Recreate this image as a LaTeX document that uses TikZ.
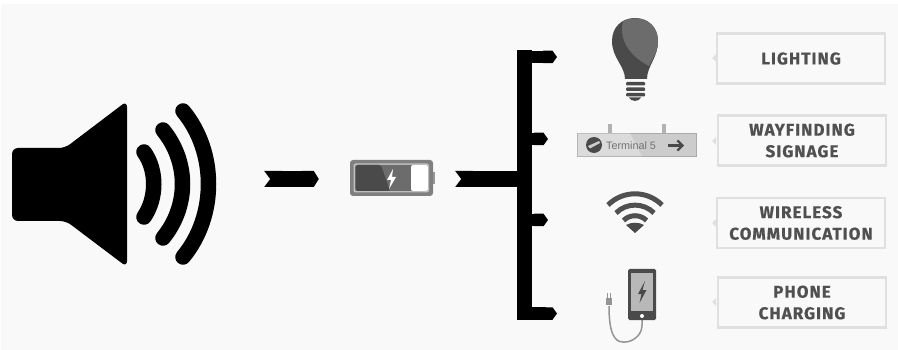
\documentclass[tikz,border=0pt]{standalone}
\usepackage{fontspec}
\setmainfont{Liberation Sans}
\newfontfamily\labelfont[LetterSpace=6,FakeBold=0.6]{Fira Sans Bold}
\usetikzlibrary{arrows.meta,calc}
\definecolor{bgc}{HTML}{F9F9F9}
\definecolor{dk}{HTML}{4A4A4A}
\definecolor{mid}{HTML}{6C6C6C}
\definecolor{lbl}{HTML}{505050}
\definecolor{bord}{HTML}{E0E0E0}
\tikzset{
  px/.style={x=1pt,y=-1pt},
  labelbox/.style={draw=bord,line width=2.6pt,fill=bgc,minimum width=168pt,minimum height=50pt,inner sep=0pt,align=center,
    font=\labelfont\fontsize{17}{21.5}\selectfont,text=lbl},
  pointer/.style={fill=bord,draw=none},
  anchorbox/.style={inner sep=0pt,draw=none},
  branch/.style={line width=12.5pt,draw=black,-{Triangle Cap[length=4.5pt,width=12.5pt]}},
  flow/.style={line width=16pt,draw=black,{Triangle Cap[reversed,length=6pt,width=16pt]}-{Triangle Cap[length=5pt,width=16pt]}},
  wave/.style={line width=15.5pt,draw=black,line cap=round},
  wifi/.style={line width=5pt,draw=lbl},
}
\begin{document}
\begin{tikzpicture}[px]
\useasboundingbox (0,0) rectangle (898,350);
\fill[white] (0,0) rectangle (898,350);
\fill[bgc] (1,4) rectangle (898,350);

% speaker
\fill[black,rounded corners=6pt] (12,148) -- (65,148) -- (127,101) -- (127,267) -- (66,221) -- (12,221) -- cycle;
\fill[black] (12,158) rectangle (70,211);
\draw[wave] (144,152) .. controls (157,170) and (157,198) .. (144,217);
\draw[wave] (163,130) .. controls (189,162) and (189,206) .. (163,238);
\draw[wave] (183,111) .. controls (217,152) and (217,216) .. (183,257);
\node[anchorbox,minimum width=205pt,minimum height=160pt] (speaker) at (114.5,179) {};

% battery
\node[anchorbox,minimum width=83pt,minimum height=36pt] (battery) at (391.5,179) {};
\fill[mid!70!white] (432,172) rectangle (435,184);
\fill[rounded corners=3pt,fill=black!50] (350,160) rectangle (433,196);
\fill[rounded corners=2pt,fill=black!25] (353.5,163.5) rectangle (429,192.5);
\fill[rounded corners=2pt,fill=mid] (355,165) rectangle (428,191);
\fill[dk,rounded corners=2pt] (356,165) -- (381,165) -- (390,191) -- (356,191) -- cycle;
\fill[rounded corners=2pt,fill=white] (411,165) rectangle (428,191);
\fill[white] (393,169) -- (387,180) -- (391,180) -- (389,189) -- (396,177) -- (392,177) -- cycle;

% flows
\coordinate (junction) at (524,179);
\coordinate (top) at (524,50.5);
\coordinate (bottom) at (524,320);
\coordinate (b1s) at (517.5,57);
\coordinate (b1e) at (557,57);
\coordinate (b2s) at (524,139);
\coordinate (b2e) at (548,139);
\coordinate (b3s) at (524,220);
\coordinate (b3e) at (548,220);
\coordinate (b4s) at (517.5,313.5);
\coordinate (b4e) at (557,313.5);
\draw[flow,shorten <=47pt,shorten >=31pt] (speaker.east) -- (battery.west);
\draw[line width=16pt,draw=black,{Triangle Cap[reversed,length=6pt,width=16pt]}-,shorten <=22pt] (battery.east) -- (junction);
\draw[line width=15pt,draw=black] (top) -- (bottom);
\draw[branch] (b1s) -- (b1e);
\draw[branch] (b2s) -- (b2e);
\draw[branch] (b3s) -- (b3e);
\draw[branch] (b4s) -- (b4e);

% bulb
\fill[dk] (625,79) .. controls (625,66) and (612,58) .. (612,41)
  .. controls (612,27) and (622,18) .. (635,18)
  .. controls (648,18) and (658,27) .. (658,41)
  .. controls (658,58) and (647,66) .. (647,79) -- cycle;
\fill[mid] (623,21.5) .. controls (630,17.5) and (641,17) .. (648,22)
  .. controls (656,27) and (658,35) .. (658,42)
  .. controls (658,51) and (653,58) .. (649,66)
  .. controls (633,58) and (618,42) .. (623,21.5) -- cycle;
\fill[dk,rounded corners=1pt] (626,82) rectangle (645,85.5);
\fill[dk,rounded corners=1pt] (626,87.5) rectangle (645,91);
\fill[dk,rounded corners=1pt] (626,93) rectangle (645,96.5);
\fill[dk] (629,97.5) -- (641,97.5) .. controls (639,102) and (631,102) .. (629,97.5) -- cycle;

% sign
\fill[black!30] (607.5,124) rectangle (611.5,133);
\fill[black!30] (661.5,124) rectangle (665.5,133);
\filldraw[fill=black!20,draw=black!33,line width=1pt] (577.5,133.5) rectangle (696.5,156.5);
\fill[black!8,opacity=.5] (577.5,133.5) -- (630,133.5) -- (642,156.5) -- (577.5,156.5) -- cycle;
\fill[dk] (594,145) circle (8);
\fill[black!20] (588,146) -- (599,141) -- (600,143) -- (590,148.5) -- cycle;
\node[anchorbox,font=\fontsize{10.8}{12}\selectfont,text=black!55,anchor=west] (term) at (606,145.5) {Terminal 5};
\draw[line width=2.2pt,draw=dk,-{Straight Barb[length=5pt,width=10pt]}] (668,145.5) -- (684,145.5);

% wifi
\coordinate (w) at (635,232);
\draw[wifi] ($(w)+(-27,-27)$) arc[start angle=225,end angle=315,radius=38.2];
\draw[wifi] ($(w)+(-19,-19)$) arc[start angle=225,end angle=315,radius=26.9];
\draw[wifi] ($(w)+(-11.5,-11.5)$) arc[start angle=225,end angle=315,radius=16.3];
\fill[dk] (635,233) -- (626,225) .. controls (631,222) and (639,222) .. (644,225) -- cycle;

% phone
\draw[line width=1.5pt,draw=black!42,rounded corners=1pt] (642,320) -- (642,326) .. controls (641,336) and (632,342) .. (624,342) .. controls (614,342) and (609,332) .. (609,306);
\fill[black!42] (606,305) rectangle (612,298);
\fill[black!42] (607,298) rectangle (608,293);
\fill[black!42] (610,298) rectangle (611,293);
\fill[dk,rounded corners=1.5pt] (628,269) rectangle (656,320);
\fill[black!28] (631,273) rectangle (653,311);
\fill[dk] (645,281) -- (638,294) -- (641.5,294) -- (639.5,303) -- (646.5,290) -- (642.5,290) -- cycle;
\fill[white] (642,316) circle (2);

% labels
\node[labelbox] (l1) at (801,58.5) {LIGHTING};
\node[labelbox] (l2) at (802,140.5) {WAYFINDING\\SIGNAGE};
\node[labelbox] (l3) at (801,223) {WIRELESS\\COMMUNICATION};
\node[labelbox] (l4) at (802,302.5) {PHONE\\CHARGING};
\fill[pointer] (712,58) -- (716,54) -- (716,62) -- cycle;
\fill[pointer] (712,141) -- (716,137) -- (716,145) -- cycle;
\fill[pointer] (712,223) -- (716,219) -- (716,227) -- cycle;
\fill[pointer] (712,302) -- (716,298) -- (716,306) -- cycle;
\end{tikzpicture}
\end{document}
